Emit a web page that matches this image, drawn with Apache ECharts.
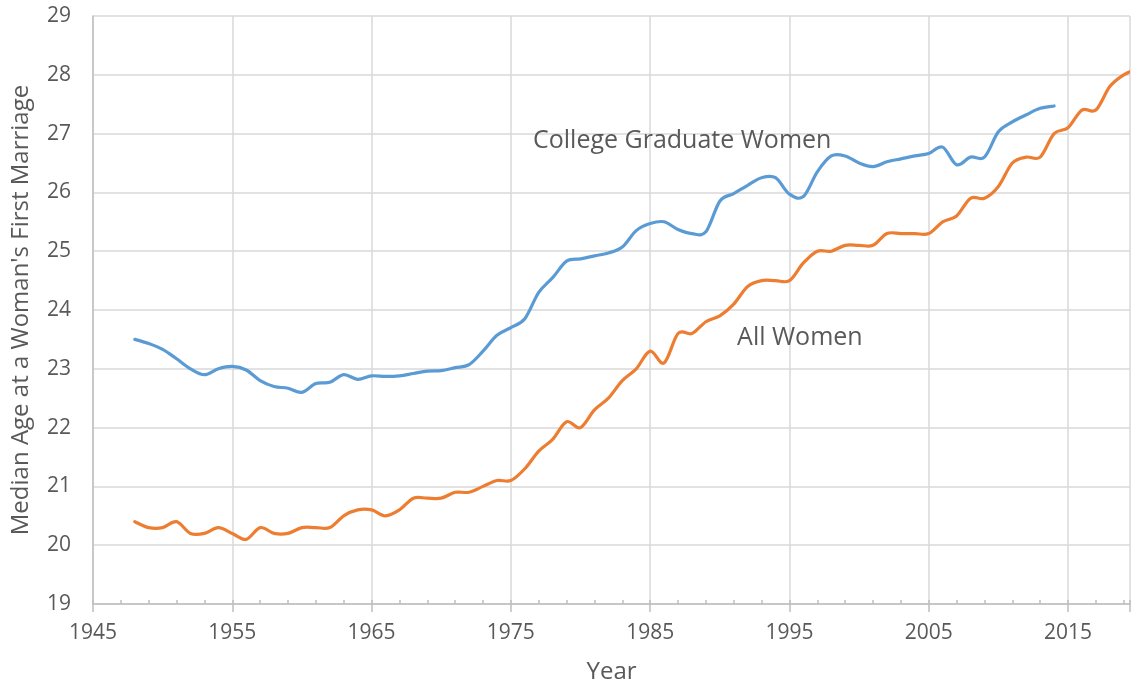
<!DOCTYPE html>
<html>
<head>
<meta charset="utf-8">
<script src="https://cdn.jsdelivr.net/npm/echarts@6/dist/echarts.min.js"></script>
<style>html,body{margin:0;padding:0;background:#fff}#c{width:1133px;height:689px}</style>
</head>
<body>
<div id="c"></div>
<script>
var years = [];
for (var y = 1948; y <= 2020; y++) years.push(y);

var allWomen = [20.4,20.3,20.3,20.4,20.2,20.2,20.3,20.2,20.1,20.3,20.2,20.2,20.3,20.3,20.3,20.5,20.6,20.6,20.5,20.6,20.8,20.8,20.8,20.9,20.9,21.0,21.1,21.1,21.3,21.6,21.8,22.1,22.0,22.3,22.5,22.8,23.0,23.3,23.1,23.6,23.6,23.8,23.9,24.1,24.4,24.5,24.5,24.5,24.8,25.0,25.0,25.1,25.1,25.1,25.3,25.3,25.3,25.3,25.5,25.6,25.9,25.9,26.1,26.5,26.6,26.6,27.0,27.1,27.4,27.4,27.8,28.0,28.1];

var collegeWomen = [23.5,23.43,23.33,23.17,23.0,22.9,23.0,23.04,22.98,22.8,22.7,22.67,22.6,22.75,22.77,22.9,22.82,22.88,22.87,22.88,22.92,22.96,22.97,23.02,23.07,23.3,23.57,23.7,23.85,24.3,24.55,24.83,24.87,24.92,24.97,25.07,25.35,25.47,25.5,25.37,25.3,25.33,25.85,25.98,26.12,26.25,26.25,25.97,25.93,26.35,26.62,26.62,26.5,26.44,26.52,26.57,26.62,26.66,26.77,26.47,26.6,26.6,27.03,27.2,27.32,27.43,27.47];

var xTicks = [1945,1955,1965,1975,1985,1995,2005,2015];

function pairs(vals){ return vals.map(function(v,i){ return [years[i], v]; }); }

var font = 'Open Sans';
var txt = '#595959';
var grid = '#d9d9d9';

// Smooth curve (Excel-like Catmull-Rom) drawn through the data via the axis scales
function smoothSeries(name, vals, color){
  var data = pairs(vals);
  return {
    name: name, type: 'custom', clip: true, silent: true,
    encode: {x: 0, y: 1},
    data: data,
    renderItem: function(params, api){
      if (params.dataIndex !== 0) return null;
      var p = data.map(function(d){ return api.coord(d); });
      var n = p.length;
      var d = 'M' + p[0][0] + ' ' + p[0][1];
      for (var i = 0; i < n - 1; i++){
        var p0 = p[Math.max(i - 1, 0)], p1 = p[i], p2 = p[i + 1], p3 = p[Math.min(i + 2, n - 1)];
        var c1x = p1[0] + (p2[0] - p0[0]) / 6, c1y = p1[1] + (p2[1] - p0[1]) / 6;
        var c2x = p2[0] - (p3[0] - p1[0]) / 6, c2y = p2[1] - (p3[1] - p1[1]) / 6;
        d += ' C' + c1x + ' ' + c1y + ' ' + c2x + ' ' + c2y + ' ' + p2[0] + ' ' + p2[1];
      }
      return {
        type: 'path',
        shape: {pathData: d},
        style: {fill: 'none', stroke: color, lineWidth: 3.2, lineJoin: 'round', lineCap: 'round'}
      };
    }
  };
}

var chart = echarts.init(document.getElementById('c'));
chart.setOption({
  animation: false,
  grid: {left: 93, right: 0, top: 16, bottom: 85, containLabel: false},
  xAxis: [{
    type: 'value', min: 1945, max: 2019.45, interval: 10,
    name: 'Year', nameLocation: 'middle', nameGap: 56,
    nameTextStyle: {fontFamily: font, fontSize: 24, color: txt},
    axisLine: {show: true, lineStyle: {color: '#bfbfbf', width: 1.5}},
    axisTick: {show: true, length: 8, lineStyle: {color: '#bfbfbf', width: 1.5}},
    axisLabel: {fontFamily: font, fontSize: 21, color: txt, margin: 19,
      formatter: function(v){ return xTicks.indexOf(v) >= 0 ? String(v) : ''; }},
    splitLine: {show: true, lineStyle: {color: grid, width: 1.5}}
  },{
    type: 'value', min: 1945, max: 2019.45, interval: 2, position: 'bottom',
    axisLine: {show: false},
    axisTick: {show: true, inside: true, length: 4, lineStyle: {color: '#bfbfbf', width: 1.5}},
    axisLabel: {show: false},
    splitLine: {show: false}
  }],
  yAxis: {
    type: 'value', min: 19, max: 29, interval: 1,
    name: "Median Age at a Woman's First Marriage", nameLocation: 'middle', nameGap: 60, nameRotate: 90,
    nameTextStyle: {fontFamily: font, fontSize: 24, color: txt},
    axisLine: {show: true, lineStyle: {color: '#bfbfbf', width: 1.5}},
    axisTick: {show: false},
    axisLabel: {fontFamily: font, fontSize: 21, color: txt, margin: 22},
    splitLine: {show: true, lineStyle: {color: grid, width: 1.5}}
  },
  series: [
    smoothSeries('College Graduate Women', collegeWomen, '#5B9BD5'),
    smoothSeries('All Women', allWomen, '#ED7D31')
  ]
});

var notes = [
  {text: 'College Graduate Women', x: 1987.3, y: 26.88},
  {text: 'All Women', x: 1995.75, y: 23.53}
];
chart.setOption({
  graphic: notes.map(function(n){
    var px = chart.convertToPixel({gridIndex: 0}, [n.x, n.y]);
    return {type: 'text', x: px[0], y: px[1], silent: true,
      style: {text: n.text, fontFamily: font, fontSize: 25, fill: txt, align: 'center', verticalAlign: 'middle'}};
  })
});
</script>
</body>
</html>
